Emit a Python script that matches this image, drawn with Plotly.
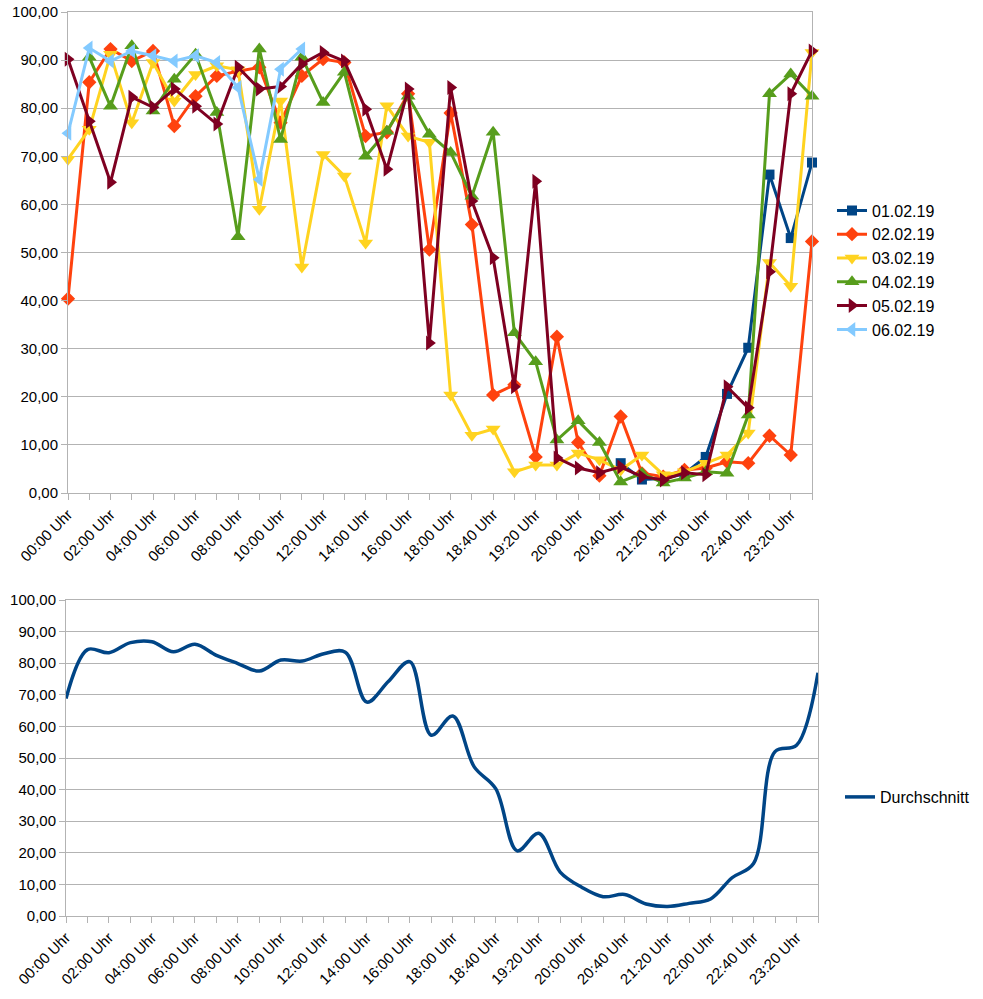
import plotly.graph_objects as go

categories = ["00:00 Uhr", "01:00 Uhr", "02:00 Uhr", "03:00 Uhr", "04:00 Uhr", "05:00 Uhr",
              "06:00 Uhr", "07:00 Uhr", "08:00 Uhr", "09:00 Uhr", "10:00 Uhr", "11:00 Uhr",
              "12:00 Uhr", "13:00 Uhr", "14:00 Uhr", "15:00 Uhr", "16:00 Uhr", "17:00 Uhr",
              "18:00 Uhr", "18:20 Uhr", "18:40 Uhr", "19:00 Uhr", "19:20 Uhr", "19:40 Uhr",
              "20:00 Uhr", "20:20 Uhr", "20:40 Uhr", "21:00 Uhr", "21:20 Uhr", "21:40 Uhr",
              "22:00 Uhr", "22:20 Uhr", "22:40 Uhr", "23:00 Uhr", "23:20 Uhr", "23:40 Uhr"]

N = None
s_01_02_19 = [N, N, N, N, N, N, N, N, N, N, N, N, N, N, N, N, N, N,
              N, N, N, N, N, N, N, N, 6.2, 2.8, 3.0, 4.0, 7.5, 20.6, 30.2, 66.2, 53.0, 68.7]
s_02_02_19 = [40.4, 85.4, 92.3, 89.8, 91.9, 76.3, 82.5, 86.7, 87.7, 88.5, 77.0, 86.7,
              90.2, 89.5, 74.2, 75.0, 83.0, 50.6, 79.0, 55.8, 20.4, 22.5, 7.5, 32.5,
              10.5, 3.6, 15.9, 4.1, 3.4, 4.8, 5.2, 6.5, 6.2, 11.9, 7.9, 52.3]
s_03_02_19 = [69.4, 75.6, 91.2, 77.0, 89.5, 81.5, 87.0, 88.8, 88.0, 59.0, 81.5, 47.0,
              70.4, 65.9, 52.0, 80.5, 74.2, 72.9, 20.4, 12.0, 13.3, 4.4, 5.8, 5.8,
              8.3, 6.9, 4.8, 7.9, 3.8, 4.4, 6.2, 7.9, 12.5, 47.9, 43.0, 91.6]
s_04_02_19 = [N, 90.6, 80.4, 93.0, 79.4, 86.0, 91.2, 79.1, 53.3, 92.3, 73.5, 90.6,
              81.2, 87.5, 70.0, 75.2, 82.5, 74.6, 70.8, 61.7, 75.0, 33.3, 27.3, 11.0,
              15.0, 10.5, 2.3, 4.1, 2.1, 3.1, 4.4, 4.1, 16.2, 83.0, 87.1, 82.5]
s_05_02_19 = [90.2, 77.3, 64.6, 82.3, 80.2, 84.0, 80.4, 76.7, 88.5, 84.0, 84.5, 89.2,
              91.6, 89.8, 79.8, 67.3, 84.0, 31.2, 84.3, 60.7, 48.9, 22.1, 64.8, 7.3,
              5.2, 4.2, 5.4, 3.4, 2.7, 4.2, 3.8, 22.1, 17.7, 46.0, 83.0, 91.9]
s_06_02_19 = [74.8, 92.5, 89.8, 91.9, 90.9, 89.8, 90.9, 89.5, 84.3, 65.2, 88.1, 92.3,
              N, N, N, N, N, N, N, N, N, N, N, N, N, N, N, N, N, N, N, N, N, N, N, N]
durchschnitt = [68.8, 84.3, 83.3, 86.5, 86.8, 83.6, 86.0, 82.5, 79.9, 77.5, 81.0, 80.7,
                83.0, 83.5, 67.7, 74.2, 80.5, 57.2, 63.3, 47.2, 40.3, 20.6, 26.2, 13.9,
                9.1, 6.1, 6.8, 3.8, 3.0, 4.0, 5.4, 12.1, 16.6, 52.0, 54.0, 77.0]

series_names = ["01.02.19", "02.02.19", "03.02.19", "04.02.19", "05.02.19", "06.02.19"]
series_values = [s_01_02_19, s_02_02_19, s_03_02_19, s_04_02_19, s_05_02_19, s_06_02_19]
colors = ["#004586", "#ff420e", "#ffd320", "#579d1c", "#7e0021", "#83caff"]
symbols = ["square", "diamond", "triangle-down", "triangle-up", "triangle-right", "triangle-left"]
sizes = [10, 11, 13, 13, 13, 13]

tick_text = [c if i % 2 == 0 else "" for i, c in enumerate(categories)]

FONT = "Liberation Sans, Arial, sans-serif"
GRID = "#b3b3b3"
W, H = 983, 999

def px(xp):
    return xp / W

def py(yp):
    return 1 - yp / H

fig = go.Figure()
for name, vals, col, sym, sz in zip(series_names, series_values, colors, symbols, sizes):
    fig.add_trace(go.Scatter(
        x=categories, y=vals, name=name, mode="lines+markers",
        line=dict(color=col, width=3), marker=dict(symbol=sym, size=sz, color=col),
        cliponaxis=False, xaxis="x", yaxis="y", legend="legend", connectgaps=False))

fig.add_trace(go.Scatter(
    x=categories, y=durchschnitt, name="Durchschnitt", mode="lines",
    line=dict(color="#004586", width=3.5, shape="spline", smoothing=1.0),
    cliponaxis=False, xaxis="x2", yaxis="y2", legend="legend2"))

def xaxis(domain, anchor):
    return dict(domain=domain, anchor=anchor, type="category", range=[0, len(categories) - 1],
                tickmode="array", tickvals=categories, ticktext=tick_text, tickangle=-45,
                ticks="outside", ticklen=6, tickcolor=GRID, tickwidth=1,
                showline=True, linecolor=GRID, linewidth=1, mirror=True,
                showgrid=False, zeroline=False, automargin=False, ticklabeloverflow="allow",
                tickfont=dict(family=FONT, size=15, color="#000000"))

def yaxis(domain, anchor):
    return dict(domain=domain, anchor=anchor, range=[0, 100], tickmode="linear", tick0=0, dtick=10,
                tickformat=".2f", ticks="outside", ticklen=6, tickcolor=GRID, tickwidth=1,
                showline=True, linecolor=GRID, linewidth=1, mirror=True,
                showgrid=True, gridcolor=GRID, gridwidth=1, zeroline=False, automargin=False,
                ticklabeloverflow="allow",
                tickfont=dict(family=FONT, size=15, color="#000000"))

fig.update_layout(
    width=W, height=H, margin=dict(l=0, r=0, t=0, b=0),
    paper_bgcolor="white", plot_bgcolor="white",
    separators=",.",
    font=dict(family=FONT, size=15, color="#000000"),
    xaxis=xaxis([px(68), px(812)], "y"),
    yaxis=yaxis([py(493), py(12)], "x"),
    xaxis2=xaxis([px(66), px(818)], "y2"),
    yaxis2=yaxis([py(916), py(600)], "x2"),
    legend=dict(x=px(832), y=py(270), xanchor="left", yanchor="middle",
                font=dict(family=FONT, size=16), itemwidth=30, tracegroupgap=0,
                bgcolor="rgba(0,0,0,0)"),
    legend2=dict(x=px(840), y=py(797), xanchor="left", yanchor="middle",
                 font=dict(family=FONT, size=16), itemwidth=30,
                 bgcolor="rgba(0,0,0,0)"),
    showlegend=True,
)

fig.write_html("out.html", config={"displayModeBar": False},
               post_script="document.body.style.margin='0px';")
